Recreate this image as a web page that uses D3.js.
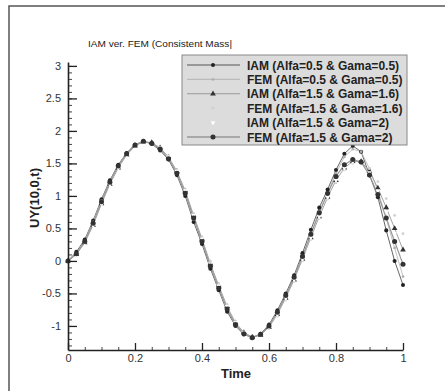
<!DOCTYPE html>
<html>
<head>
<meta charset="utf-8">
<script src="https://cdn.jsdelivr.net/npm/d3@7"></script>
<style>
  body { margin: 0; background: #fff; }
  text { font-family: "Liberation Sans", Arial, sans-serif; }
</style>
</head>
<body>
<svg id="chart" width="445" height="391"></svg>
<script>
// sample times and displacement values
var times = [0,0.025,0.05,0.075,0.1,0.125,0.15,0.175,0.2,0.225,0.25,0.275,0.3,0.325,0.35,0.375,0.4,
             0.425,0.45,0.475,0.5,0.525,0.55,0.575,0.6,0.625,0.65,0.675,0.7,0.725,0.75,0.775,0.8,
             0.825,0.85,0.875,0.9,0.925,0.95,0.975,1];

var iam05 = [0,0.14,0.33,0.62,0.95,1.24,1.48,1.66,1.79,1.84,1.80,1.70,1.56,1.32,1.00,0.60,0.26,
             -0.12,-0.45,-0.78,-1.00,-1.13,-1.18,-1.12,-0.98,-0.76,-0.50,-0.22,0.12,0.48,0.82,1.10,1.40,
             1.65,1.77,1.68,1.32,0.98,0.47,0.00,-0.37];
var fem05 = [0,0.12,0.31,0.60,0.93,1.22,1.47,1.65,1.78,1.84,1.81,1.72,1.58,1.35,1.03,0.64,0.30,
             -0.08,-0.42,-0.75,-0.98,-1.12,-1.18,-1.13,-1.00,-0.79,-0.54,-0.26,0.07,0.42,0.76,1.05,1.35,
             1.60,1.72,1.68,1.42,1.08,0.65,0.20,-0.24];
var iam16 = [0,0.10,0.28,0.55,0.88,1.18,1.43,1.63,1.77,1.83,1.82,1.74,1.60,1.38,1.08,0.70,0.34,
             -0.04,-0.38,-0.70,-0.95,-1.10,-1.17,-1.14,-1.02,-0.82,-0.57,-0.29,0.03,0.36,0.68,0.98,1.24,
             1.43,1.53,1.53,1.38,1.12,0.82,0.50,0.17];
var fem16 = [0,0.09,0.27,0.54,0.87,1.17,1.42,1.62,1.76,1.83,1.82,1.75,1.62,1.40,1.10,0.73,0.37,
             0.00,-0.35,-0.67,-0.93,-1.09,-1.17,-1.15,-1.04,-0.85,-0.60,-0.32,0.00,0.33,0.65,0.95,1.20,
             1.40,1.50,1.52,1.42,1.22,0.96,0.70,0.42];
var iam2  = [0,0.10,0.28,0.55,0.88,1.18,1.43,1.63,1.77,1.83,1.82,1.74,1.60,1.38,1.08,0.70,0.34,
             -0.04,-0.38,-0.70,-0.95,-1.10,-1.17,-1.14,-1.02,-0.82,-0.57,-0.29,0.03,0.36,0.68,0.98,1.24,
             1.43,1.53,1.52,1.36,1.08,0.76,0.42,0.05];
var fem2  = [0,0.11,0.30,0.58,0.91,1.21,1.46,1.65,1.78,1.84,1.81,1.72,1.57,1.35,1.04,0.66,0.30,
             -0.08,-0.42,-0.74,-0.98,-1.12,-1.18,-1.13,-1.00,-0.79,-0.53,-0.25,0.07,0.41,0.74,1.04,1.30,
             1.48,1.56,1.52,1.32,1.02,0.66,0.30,-0.05];

var seriesNames = ["IAM (Alfa=0.5 & Gama=0.5)", "FEM (Alfa=0.5 & Gama=0.5)",
                   "IAM (Alfa=1.5 & Gama=1.6)", "FEM (Alfa=1.5 & Gama=1.6)",
                   "IAM (Alfa=1.5 & Gama=2)",   "FEM (Alfa=1.5 & Gama=2)"];
var xTicks = [0, 0.2, 0.4, 0.6, 0.8, 1];
var yTicks = [-1, -0.5, 0, 0.5, 1, 1.5, 2, 2.5, 3];

// per-series look: line colour/width, marker symbol/size/colour
var styles = [
  { line: "#555", lw: 0.9, sym: d3.symbolCircle,   size: 13, fill: "#222" },
  { line: "#bbb", lw: 0.9, sym: d3.symbolCircle,   size: 6,  fill: "#b0b0b0" },
  { line: "#999", lw: 0.9, sym: d3.symbolTriangle, size: 14, fill: "#333" },
  { line: null,   lw: 0,   sym: d3.symbolCircle,   size: 6,  fill: "#d0d0d0" },
  { line: null,   lw: 0,   sym: d3.symbolTriangle, size: 10, fill: "#fff", rot: 180 },
  { line: "#999", lw: 1.2, sym: d3.symbolCircle,   size: 20, fill: "#333" }
];
var allValues = [iam05, fem05, iam16, fem16, iam2, fem2];

var svg = d3.select("#chart");
var x = d3.scaleLinear().domain([0, 1]).range([68, 403]);
var y = d3.scaleLinear().domain([-1.37, 3.06]).range([350, 62]);

// outer frame (top and left edges only are visible)
svg.append("path").attr("d", "M9,391V6H445")
   .attr("fill", "none").attr("stroke", "#555").attr("stroke-width", 1.5);

// title
svg.append("text").attr("x", 88).attr("y", 47)
   .attr("font-size", 9).attr("fill", "#222")
   .attr("textLength", 144).attr("lengthAdjust", "spacingAndGlyphs")
   .text("IAM ver. FEM (Consistent Mass|");

// curves
var line = d3.line().x((d, i) => x(times[i])).y(d => y(d));
var plot = svg.append("g");
allValues.forEach(function(vals, k) {
    var st = styles[k];
    if (st.line) {
        plot.append("path").attr("d", line(vals))
            .attr("fill", "none").attr("stroke", st.line).attr("stroke-width", st.lw);
    }
});
allValues.forEach(function(vals, k) {
    var st = styles[k];
    var sym = d3.symbol().type(st.sym).size(st.size);
    plot.append("g").selectAll("path").data(vals).enter().append("path")
        .attr("d", sym)
        .attr("transform", (d, i) => "translate(" + x(times[i]) + "," + y(d) + ")" +
              (st.rot ? " rotate(" + st.rot + ")" : ""))
        .attr("fill", st.fill);
});

// axes, ticks pointing inwards
var fmt = d => String(+d.toFixed(2));
function styleAxis(g) {
    g.selectAll("path.domain").attr("stroke", "#222").attr("stroke-width", 1.6);
    g.selectAll(".tick line").attr("stroke", "#222").attr("stroke-width", 1.3);
    g.selectAll("text").attr("font-size", 11).attr("fill", "#333")
     .attr("font-family", "Liberation Sans, Arial, sans-serif");
}
svg.append("g").attr("transform", "translate(0,350)")
   .call(d3.axisBottom(x).tickValues(d3.range(0, 1.001, 0.05)).tickSize(-3).tickFormat(""))
   .call(g => g.selectAll(".tick line").attr("stroke", "#444"))
   .call(g => g.select(".domain").remove());
svg.append("g").attr("transform", "translate(0,350)")
   .call(d3.axisBottom(x).tickValues(xTicks).tickSize(-7).tickSizeOuter(0)
         .tickPadding(4).tickFormat(fmt))
   .call(styleAxis);

svg.append("g").attr("transform", "translate(68,0)")
   .call(d3.axisLeft(y).tickValues(d3.range(-1.3, 3.05, 0.1)).tickSize(-4).tickFormat(""))
   .call(g => g.selectAll(".tick line").attr("stroke", "#444"))
   .call(g => g.select(".domain").remove());
svg.append("g").attr("transform", "translate(68,0)")
   .call(d3.axisLeft(y).tickValues(yTicks).tickSize(-9).tickSizeOuter(0)
         .tickPadding(7).tickFormat(fmt))
   .call(styleAxis);

// axis titles
svg.append("text").attr("x", 236).attr("y", 378).attr("text-anchor", "middle")
   .attr("font-size", 13).attr("font-weight", "bold").attr("fill", "#222").text("Time");
svg.append("text").attr("transform", "translate(39,198) rotate(-90)")
   .attr("text-anchor", "middle").attr("font-size", 13).attr("font-weight", "bold")
   .attr("fill", "#222").text("UY(10,0,t)");

// legend
var leg = svg.append("g").attr("transform", "translate(182,55)");
leg.append("rect").attr("width", 225).attr("height", 90)
   .attr("fill", "#dcdcdc").attr("stroke", "#888").attr("stroke-width", 1);
seriesNames.forEach(function(name, k) {
    var st = styles[k], yy = 10 + k * 14.4;
    if (st.line) {
        leg.append("line").attr("x1", 5).attr("x2", 58).attr("y1", yy).attr("y2", yy)
           .attr("stroke", st.line).attr("stroke-width", st.lw + 0.2);
    }
    leg.append("path").attr("d", d3.symbol().type(st.sym).size(st.size)())
       .attr("transform", "translate(31," + yy + ")" + (st.rot ? " rotate(" + st.rot + ")" : ""))
       .attr("fill", st.fill);
    leg.append("text").attr("x", 65).attr("y", yy + 4.5)
       .attr("font-size", 12).attr("font-weight", "bold").attr("fill", "#222").text(name);
});
</script>
</body>
</html>
